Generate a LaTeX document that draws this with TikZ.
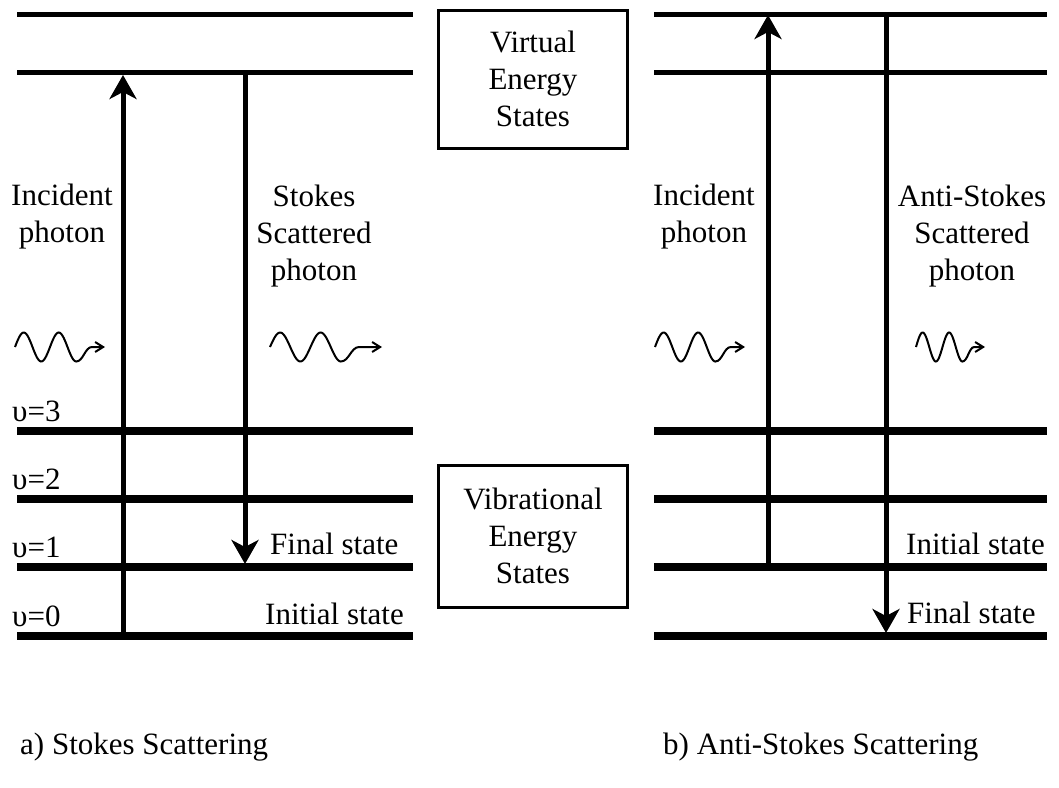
\documentclass[tikz,border=0pt]{standalone}
\usepackage{fontspec}
\setmainfont{Liberation Serif}
\usetikzlibrary{arrows.meta}

\tikzset{
  virtlevel/.style={line width=5pt},
  viblevel/.style={line width=8.5pt},
  transition/.style={line width=5pt, -{Stealth[length=24pt,width=27pt,inset=7pt]}},
  statebox/.style={draw, line width=3pt, minimum width=189pt, align=center, inner sep=0pt},
  wavy/.style={line width=2pt, -{Straight Barb[length=8pt,width=10pt]}},
  lbl/.style={anchor=base, align=center, inner sep=0pt},
  lvl/.style={anchor=base west, inner sep=0pt}
}

% photon: start x, period, mid y, tip x
\newcommand{\photon}[4]{%
  \draw[wavy] plot[domain=0:1.75, samples=60, smooth] ({#1+\x*#2}, {#3-14.5*sin(\x*360)})
    .. controls ({#1+1.95*#2}, {#3+14.5}) and ({#1+2.0*#2}, {#3}) .. ({#1+2.2*#2}, {#3})
    -- (#4, #3);
}

\begin{document}
\begin{tikzpicture}[x=1pt, y=-1pt, font=\fontsize{31}{37}\selectfont]
  \useasboundingbox (0,0) rectangle (1059,787);

  % energy levels
  \foreach \y in {14,72}{
    \draw[virtlevel] (17,\y) -- (413,\y);
    \draw[virtlevel] (654,\y) -- (1047,\y);
  }
  \foreach \y [count=\i from 0] in {636,567,499,431}{
    \draw[viblevel] (17,\y) -- (413,\y);
    \draw[viblevel] (654,\y) -- (1047,\y);
    \node[lvl] (v\i) at (12,\y-10) {υ=\i};
  }

  % boxes
  \node[statebox, minimum height=138pt] (virtual) at (533,79) {Virtual\\Energy\\States};
  \node[statebox, minimum height=142pt] (vibrational) at (533,536) {Vibrational\\Energy\\States};

  % a) stokes
  \coordinate (a-start) at (123,636);
  \coordinate (a-top) at (123,75);
  \coordinate (s-start) at (245,72);
  \coordinate (s-end) at (245,564);
  \draw[transition] (a-start) -- (a-top);
  \draw[transition] (s-start) -- (s-end);
  \node[lbl] (incA) at (62,242) {Incident\\photon};
  \node[lbl] (stokes) at (314,280) {Stokes\\Scattered\\photon};
  \node[lvl] (finalA) at (270,554) {Final state};
  \node[anchor=base east, inner sep=0pt] (initA) at (404,624) {Initial state};
  \photon{15}{35}{347}{105}
  \photon{270}{40.5}{347}{382}

  % b) anti-stokes
  \coordinate (b-start) at (768,567);
  \coordinate (b-top) at (768,15);
  \coordinate (as-start) at (886,14);
  \coordinate (as-end) at (886,633);
  \draw[transition] (b-start) -- (b-top);
  \draw[transition] (as-start) -- (as-end);
  \node[lbl] (incB) at (704,242) {Incident\\photon};
  \node[lbl] (antistokes) at (972,280) {Anti-Stokes\\Scattered\\photon};
  \node[lvl] (initB) at (906,554) {Initial state};
  \node[lvl] (finalB) at (907,623) {Final state};
  \photon{655}{34.5}{347}{745}
  \photon{916}{26.5}{347}{985}

  \node[lvl] (capA) at (20,754) {a) Stokes Scattering};
  \node[lvl] (capB) at (663,754) {b) Anti-Stokes Scattering};
\end{tikzpicture}
\end{document}
